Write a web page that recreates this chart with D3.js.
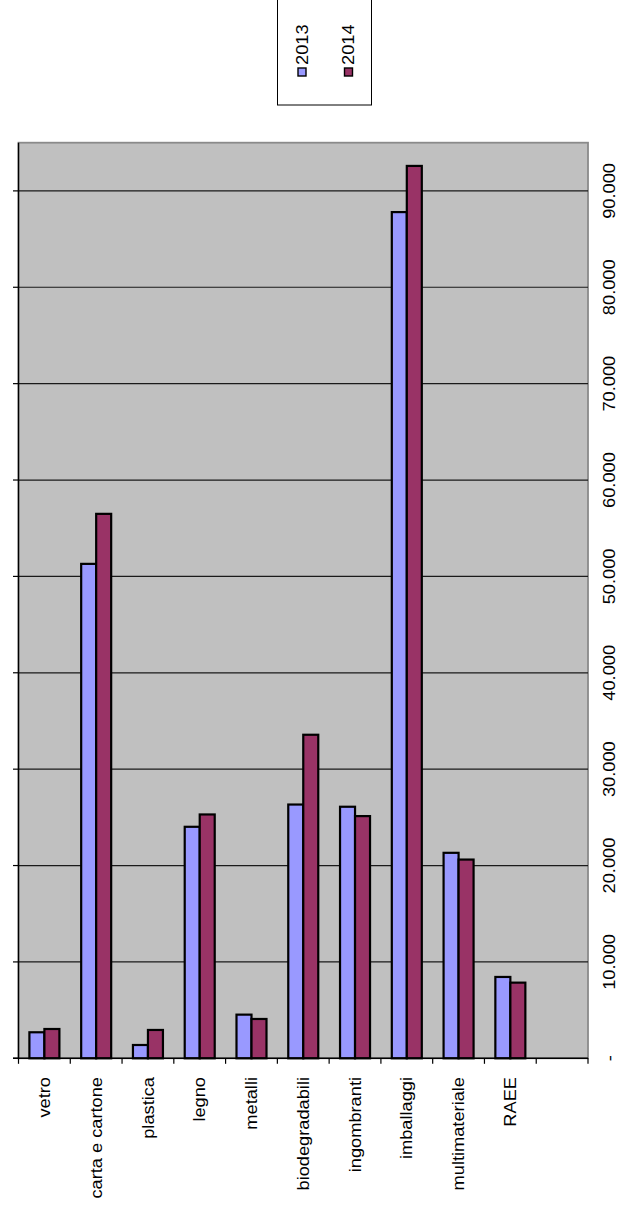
<!DOCTYPE html>
<html lang="it">
<head>
  <meta charset="utf-8">
  <script src="https://d3js.org/d3.v7.min.js"></script>
  <style>
    body { margin: 0; background: #fff; }
    svg text { font-family: "Liberation Sans", Arial, sans-serif; fill: #000; }
  </style>
</head>
<body>

<svg width="622" height="1215"></svg>

<script>
// data
var categories = ["vetro", "carta e cartone", "plastica", "legno", "metalli",
                  "biodegradabili", "ingombranti", "imballaggi", "multimateriale", "RAEE"];
var series = ["2013", "2014"];
var values2013 = [2700, 51300, 1380, 24020, 4530, 26330, 26100, 87800, 21320, 8440];
var values2014 = [3040, 56490, 2940, 25300, 4080, 33570, 25130, 92590, 20620, 7850];
var tickValues = [0, 10000, 20000, 30000, 40000, 50000, 60000, 70000, 80000, 90000];
var tickLabels = ["-", "10.000", "20.000", "30.000", "40.000", "50.000", "60.000", "70.000", "80.000", "90.000"];
var colors = {"2013": "#9999ff", "2014": "#993366"};

var svg = d3.select("svg");

// plot area bounds (name "top" is taken by window.top)
var pLeft = 18.5, pRight = 588, pTop = 142.7, pBottom = 1058.3;
var fontSize = "16px";
var stretch = 1.14; // text in the picture is stretched along its reading direction

// 11 slots: the last one is empty
var slots = categories.concat([""]);
var x0 = d3.scaleBand().domain(slots).range([pLeft, pRight]).padding(0);
var x1 = d3.scaleBand().domain(series).range([10.9, 40.9]);
var y = d3.scaleLinear().domain([0, 95000]).range([pBottom, pTop]);

// plot area
svg.append("rect")
    .attr("x", pLeft).attr("y", pTop)
    .attr("width", pRight - pLeft).attr("height", pBottom - pTop)
    .attr("fill", "#c0c0c0")
    .attr("stroke", "#8a8a8a").attr("stroke-width", 1.8);

// gridlines
svg.append("g").selectAll("line")
    .data(tickValues.slice(1))
    .enter().append("line")
    .attr("x1", pLeft).attr("x2", pRight)
    .attr("y1", d => y(d)).attr("y2", d => y(d))
    .attr("stroke", "#1a1a1a").attr("stroke-width", 1.2);

// bars
var rows = categories.map((c, i) => ({cat: c, vals: [values2013[i], values2014[i]]}));
svg.append("g").selectAll("g")
    .data(rows)
    .enter().append("g")
    .attr("transform", d => "translate(" + x0(d.cat) + ",0)")
    .selectAll("rect")
    .data(d => series.map((s, j) => ({s: s, v: d.vals[j]})))
    .enter().append("rect")
    .attr("x", d => x1(d.s))
    .attr("width", x1.bandwidth())
    .attr("y", d => y(d.v))
    .attr("height", d => y(0) - y(d.v))
    .attr("fill", d => colors[d.s])
    .attr("stroke", "#000").attr("stroke-width", 2.2);

// axes lines
svg.append("line").attr("x1", pLeft).attr("x2", pLeft).attr("y1", pTop).attr("y2", pBottom)
    .attr("stroke", "#000").attr("stroke-width", 1.4);
svg.append("line").attr("x1", pLeft - 5.5).attr("x2", pRight).attr("y1", pBottom).attr("y2", pBottom)
    .attr("stroke", "#000").attr("stroke-width", 1.4);

// value ticks on the left
svg.append("g").selectAll("line")
    .data(tickValues)
    .enter().append("line")
    .attr("x1", pLeft - 5.5).attr("x2", pLeft)
    .attr("y1", d => y(d)).attr("y2", d => y(d))
    .attr("stroke", "#000").attr("stroke-width", 1.2);

// category ticks at the bottom
var bounds = slots.map(s => x0(s)).concat([pRight]);
svg.append("g").selectAll("line")
    .data(bounds)
    .enter().append("line")
    .attr("x1", d => d).attr("x2", d => d)
    .attr("y1", pBottom).attr("y2", pBottom + 5.5)
    .attr("stroke", "#000").attr("stroke-width", 1.2);

// value labels on the right, rotated
svg.append("g").selectAll("text")
    .data(tickValues)
    .enter().append("text")
    .attr("transform", d => "translate(609," + y(d) + ") rotate(-90) scale(" + stretch + ",1)")
    .attr("text-anchor", "middle")
    .attr("dominant-baseline", "central")
    .style("font-size", fontSize)
    .text((d, i) => tickLabels[i]);

// category labels, rotated
svg.append("g").selectAll("text")
    .data(categories)
    .enter().append("text")
    .attr("transform", d => "translate(" + (x0(d) + x0.bandwidth() / 2) + ",1077) rotate(-90) scale(" + stretch + ",1)")
    .attr("text-anchor", "end")
    .attr("dominant-baseline", "central")
    .style("font-size", fontSize)
    .text(d => d);

// legend
var legend = svg.append("g");
legend.append("rect")
    .attr("x", 277.5).attr("y", -2).attr("width", 94).attr("height", 107)
    .attr("fill", "#fff").attr("stroke", "#000").attr("stroke-width", 1);
var legendX = {"2013": 302, "2014": 348.5};
series.forEach(function(s) {
  legend.append("rect")
      .attr("x", legendX[s] - 4).attr("y", 68)
      .attr("width", 8).attr("height", 8)
      .attr("fill", colors[s]).attr("stroke", "#000").attr("stroke-width", 1.4);
  legend.append("text")
      .attr("transform", "translate(" + legendX[s] + ",65) rotate(-90) scale(" + stretch + ",1)")
      .attr("text-anchor", "start")
      .attr("dominant-baseline", "central")
      .style("font-size", fontSize)
      .text(s);
});
</script>
</body>
</html>
